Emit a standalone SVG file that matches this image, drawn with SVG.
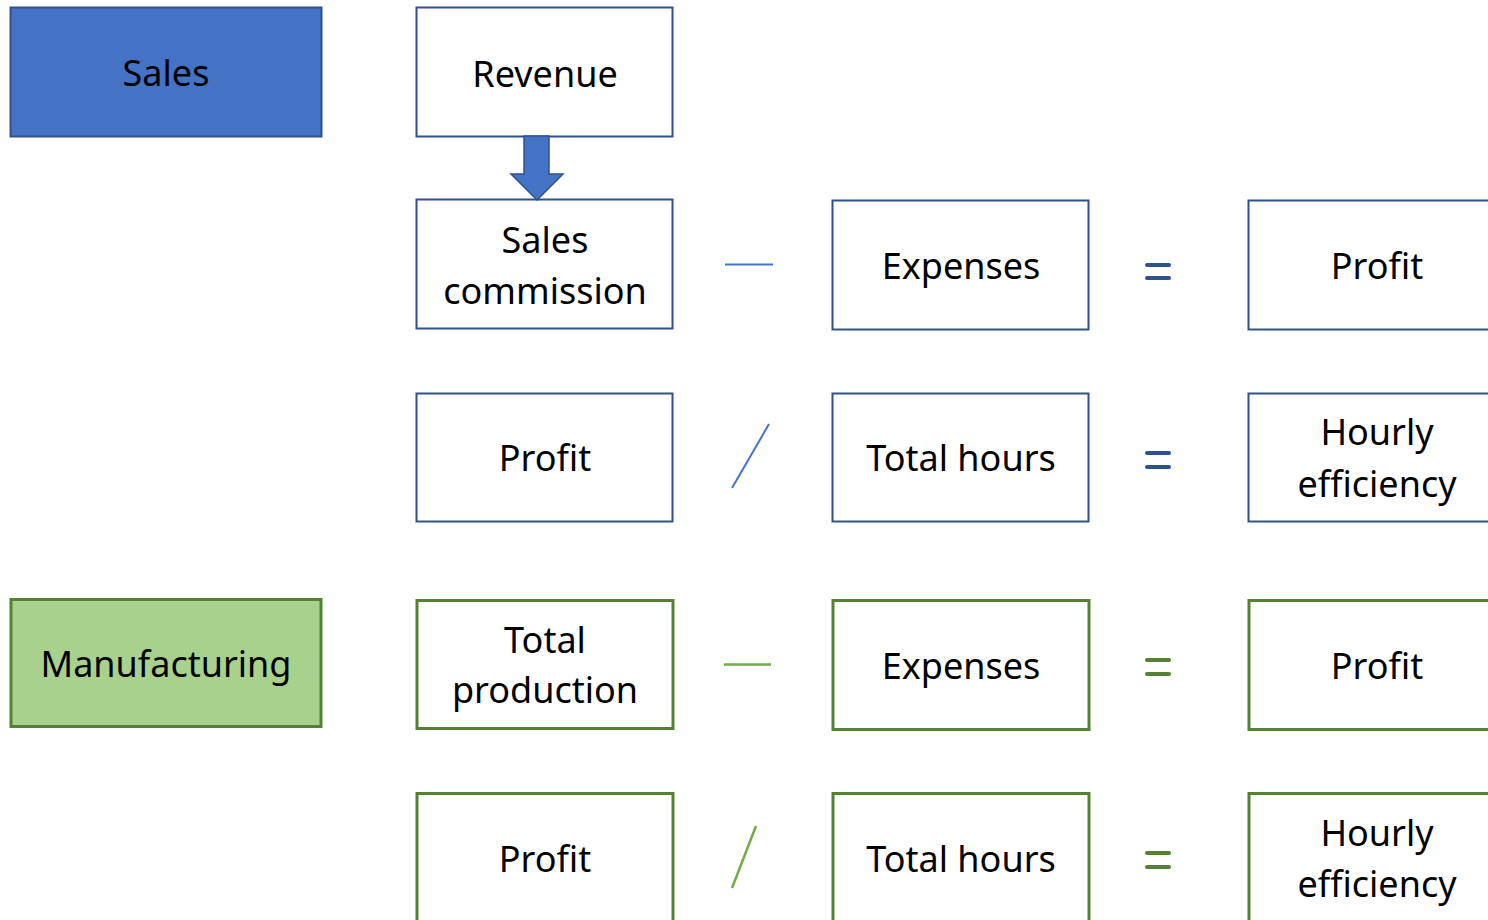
<svg xmlns="http://www.w3.org/2000/svg" width="1488" height="920" viewBox="0 0 1488 920">
<style>
text{font-family:"Noto Sans","Open Sans",sans-serif;font-size:36px;fill:#000;text-anchor:middle}
.b{fill:#fff;stroke:#2F528F;stroke-width:2}
.g{fill:#fff;stroke:#548235;stroke-width:3}
.op-b{stroke:#4472C4;stroke-width:2;fill:none}
.op-g{stroke:#70AD47;stroke-width:2.5;fill:none}
.eq-b{stroke:#2F528F;stroke-width:4;stroke-linecap:round}
.eq-g{stroke:#548235;stroke-width:4;stroke-linecap:round}
</style>
<rect width="1488" height="920" fill="#fff"/>
<g id="sales"><rect x="10.5" y="7.5" width="311" height="129" fill="#4472C4" stroke="#2F528F" stroke-width="2"/><text x="166" y="86">Sales</text></g>
<g id="revenue"><rect class="b" x="416.5" y="7.5" width="256" height="129"/><text x="545" y="87">Revenue</text></g>
<g id="sales-commission"><rect class="b" x="416.5" y="199.5" width="256" height="129"/><text x="545" y="253">Sales</text><text x="545" y="304">commission</text></g>
<g id="expenses-1"><rect class="b" x="832.5" y="200.5" width="256" height="129"/><text x="961" y="279">Expenses</text></g>
<g id="profit-1"><rect class="b" x="1248.5" y="200.5" width="258" height="129"/><text x="1377" y="279">Profit</text></g>
<g id="profit-2"><rect class="b" x="416.5" y="393.5" width="256" height="128"/><text x="545" y="471">Profit</text></g>
<g id="total-hours-1"><rect class="b" x="832.5" y="393.5" width="256" height="128"/><text x="961" y="471">Total hours</text></g>
<g id="hourly-efficiency-1"><rect class="b" x="1248.5" y="393.5" width="258" height="128"/><text x="1377" y="445">Hourly</text><text x="1377" y="497">efficiency</text></g>
<g id="manufacturing"><rect x="11" y="599.5" width="310" height="127" fill="#A9D18E" stroke="#548235" stroke-width="3"/><text x="166" y="677">Manufacturing</text></g>
<g id="total-production"><rect class="g" x="417" y="600.5" width="256" height="128"/><text x="545" y="653">Total</text><text x="545" y="703">production</text></g>
<g id="expenses-2"><rect class="g" x="833" y="600.5" width="256" height="129"/><text x="961" y="679">Expenses</text></g>
<g id="profit-3"><rect class="g" x="1249" y="600.5" width="258" height="129"/><text x="1377" y="679">Profit</text></g>
<g id="profit-4"><rect class="g" x="417" y="793.5" width="256" height="140"/><text x="545" y="872">Profit</text></g>
<g id="total-hours-2"><rect class="g" x="833" y="793.5" width="256" height="140"/><text x="961" y="872">Total hours</text></g>
<g id="hourly-efficiency-2"><rect class="g" x="1249" y="793.5" width="258" height="140"/><text x="1377" y="846">Hourly</text><text x="1377" y="897">efficiency</text></g>
<g id="connectors">
<polygon points="524,136 549,136 549,174 563,174 537,200 511,174 524,174" fill="#4472C4" stroke="#2F528F" stroke-width="1.5"/>
<line class="op-b" x1="725" y1="264.5" x2="773" y2="264.5"/>
<line class="op-b" x1="732" y1="488" x2="769" y2="424"/>
<line class="op-g" x1="724" y1="664.5" x2="771" y2="664.5"/>
<line class="op-g" x1="732" y1="888" x2="756" y2="826"/>
<line class="eq-b" x1="1147" y1="265" x2="1169" y2="265"/><line class="eq-b" x1="1147" y1="278" x2="1169" y2="278"/>
<line class="eq-b" x1="1147" y1="453" x2="1169" y2="453"/><line class="eq-b" x1="1147" y1="467" x2="1169" y2="467"/>
<line class="eq-g" x1="1147" y1="660" x2="1169" y2="660"/><line class="eq-g" x1="1147" y1="674" x2="1169" y2="674"/>
<line class="eq-g" x1="1147" y1="853" x2="1169" y2="853"/><line class="eq-g" x1="1147" y1="867" x2="1169" y2="867"/>
</g>
</svg>
